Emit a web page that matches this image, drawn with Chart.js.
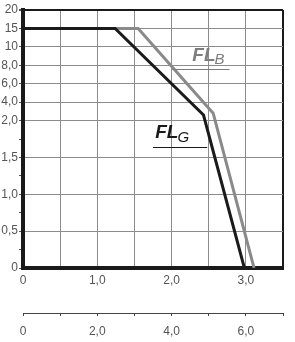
<!DOCTYPE html>
<html>
<head>
<meta charset="utf-8">
<script src="https://cdn.jsdelivr.net/npm/chart.js@4/dist/chart.umd.min.js"></script>
<style>
    html, body { margin: 0; padding: 0; background: #fff; }
    #wrap { width: 295px; height: 342px; }
</style>
</head>
<body>
<div id="wrap"><canvas id="chart" width="295" height="342"></canvas></div>
<script>
// Curve FL_G (black) and FL_B (grey)
const flgX = [0, 1.24, 2.43, 2.98];
const flgY = [15, 15, 2.6, 0];
const flbX = [0, 1.55, 2.56, 3.11];
const flbY = [15, 15, 2.8, 0];

// Axis ticks
const yTickValues = [0, 0.25, 0.5, 0.75, 1, 1.25, 1.5, 1.75, 2, 4, 6, 8, 10, 15, 20];
const yTickLabels = ['0', '', '0,5', '', '1,0', '', '1,5', '', '2,0', '4,0', '6,0', '8,0', '10', '15', '20'];
const xTickValues = [0, 0.5, 1, 1.5, 2, 2.5, 3, 3.5];
const xTickLabels = ['0', '', '1,0', '', '2,0', '', '3,0', ''];
const x2TickValues = [0, 1, 2, 3, 4, 5, 6, 7];
const x2TickLabels = ['0', '', '2,0', '', '4,0', '', '6,0', ''];

// y axis is split: 0..2 stretched, 2..10 and 10..20 compressed
function toUnit(v) {
    if (v <= 2) return v * 2;
    if (v <= 10) return 4 + (v - 2) / 4;
    return 6 + (v - 10) / 10;
}
function fromUnit(u) {
    if (u <= 4) return u / 2;
    if (u <= 6) return 2 + (u - 4) * 4;
    return 10 + (u - 6) * 10;
}

class BrokenScale extends Chart.LinearScale {
    buildTicks() {
        return yTickValues.map(function(v) { return { value: v }; });
    }
    getPixelForValue(v) {
        return this.getPixelForDecimal(toUnit(v) / 7);
    }
    getValueForPixel(p) {
        return fromUnit(this.getDecimalForPixel(p) * 7);
    }
}
BrokenScale.id = 'broken';
BrokenScale.defaults = {};
Chart.register(BrokenScale);

Chart.defaults.font.family = "'Liberation Sans', Arial, sans-serif";

const GRID = '#8c8c8c';
const INK = '#1a1a1a';
const GREY = '#8a8a8a';

function points(xs, ys) {
    return xs.map(function(x, i) { return { x: x, y: ys[i] }; });
}

// curve names drawn next to the lines
const curveLabels = {
    id: 'curveLabels',
    afterDatasetsDraw(chart) {
        const ctx = chart.ctx;
        const x = chart.scales.x;
        const y = chart.scales.y;

        function label(main, sub, xv, yv, color, lineFrom, lineTo, lineY) {
            const px = x.getPixelForValue(xv);
            const py = y.getPixelForValue(yv);
            ctx.save();
            ctx.fillStyle = color;
            ctx.textBaseline = 'alphabetic';
            ctx.font = "italic bold 19px 'Liberation Sans', Arial, sans-serif";
            ctx.fillText(main, px, py);
            const w = ctx.measureText(main).width;
            ctx.font = "italic 15px 'Liberation Sans', Arial, sans-serif";
            ctx.fillText(sub, px + w - 1, py + 3.5);
            ctx.strokeStyle = color;
            ctx.lineWidth = 1.2;
            ctx.beginPath();
            const ly = Math.round(y.getPixelForValue(lineY)) + 0.5;
            ctx.moveTo(x.getPixelForValue(lineFrom), ly);
            ctx.lineTo(x.getPixelForValue(lineTo), ly);
            ctx.stroke();
            ctx.restore();
        }

        label('FL', 'B', 2.28, 8.5, '#7d7d7d', 2.01, 2.78, 7.6);
        label('FL', 'G', 1.78, 1.76, INK, 1.75, 2.48, 1.645);
    }
};

new Chart(document.getElementById('chart'), {
    type: 'line',
    data: {
        datasets: [{
            label: 'FLG',
            data: points(flgX, flgY),
            borderColor: INK,
            borderWidth: 3,
            pointRadius: 0,
            fill: false,
            tension: 0
        }, {
            label: 'FLB',
            data: points(flbX, flbY),
            borderColor: GREY,
            borderWidth: 3,
            pointRadius: 0,
            fill: false,
            tension: 0
        }]
    },
    options: {
        responsive: false,
        animation: false,
        layout: {
            padding: { top: 10, right: 12, left: 0, bottom: 0 }
        },
        plugins: {
            legend: { display: false },
            tooltip: { enabled: false }
        },
        scales: {
            x: {
                type: 'linear',
                position: 'bottom',
                weight: 0,
                min: 0,
                max: 3.5,
                afterBuildTicks: function(scale) {
                    scale.ticks = xTickValues.map(function(v) { return { value: v }; });
                },
                afterFit: function(scale) { scale.height = 45; },
                ticks: {
                    autoSkip: false,
                    maxRotation: 0,
                    color: '#555',
                    font: { size: 12 },
                    padding: 5,
                    callback: function(v, i) { return xTickLabels[i]; }
                },
                grid: {
                    color: function(c) { return c.tick && c.tick.value === 3.5 ? INK : GRID; },
                    lineWidth: function(c) { return c.tick && c.tick.value === 3.5 ? 2 : 1; },
                    drawTicks: false
                },
                border: { display: true, color: INK, width: 4 }
            },
            x2: {
                type: 'linear',
                position: 'bottom',
                weight: 1,
                min: 0,
                max: 7,
                afterBuildTicks: function(scale) {
                    scale.ticks = x2TickValues.map(function(v) { return { value: v }; });
                },
                afterFit: function(scale) { scale.height = 29; },
                ticks: {
                    autoSkip: false,
                    maxRotation: 0,
                    color: '#555',
                    font: { size: 12 },
                    padding: 8,
                    callback: function(v, i) { return x2TickLabels[i]; }
                },
                grid: {
                    drawOnChartArea: false,
                    tickLength: 3,
                    tickColor: '#444'
                },
                border: { display: true, color: '#444', width: 1 }
            },
            y: {
                type: 'broken',
                min: 0,
                max: 20,
                afterFit: function(scale) { scale.width = 23; },
                ticks: {
                    autoSkip: false,
                    color: '#555',
                    font: { size: 12 },
                    padding: 1,
                    callback: function(v, i) { return yTickLabels[i]; }
                },
                grid: {
                    color: function(c) {
                        if (!c.tick) return GRID;
                        const i = yTickValues.indexOf(c.tick.value);
                        if (yTickLabels[i] === '') return 'rgba(0,0,0,0)';
                        return c.tick.value === 20 ? INK : GRID;
                    },
                    lineWidth: function(c) { return c.tick && c.tick.value === 20 ? 2 : 1; },
                    tickColor: '#555',
                    tickLength: 4
                },
                border: { display: true, color: INK, width: 4 }
            }
        }
    },
    plugins: [curveLabels]
});
</script>
</body>
</html>
